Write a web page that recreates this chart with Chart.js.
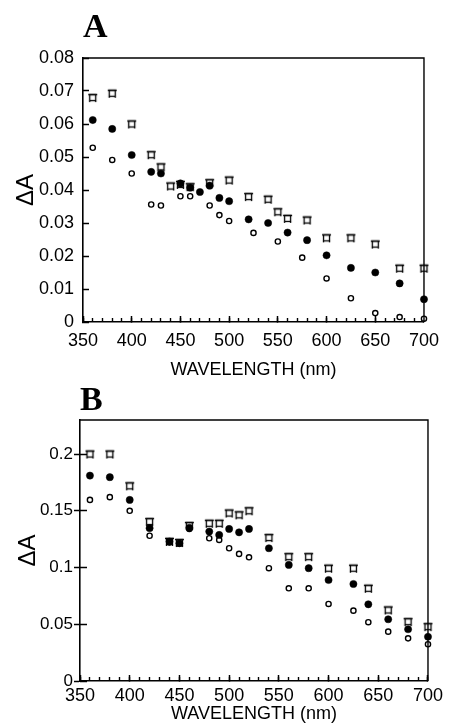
<!DOCTYPE html>
<html><head><meta charset="utf-8">
<script src="https://cdn.jsdelivr.net/npm/chart.js@4.4.1/dist/chart.umd.min.js"></script>
<style>
html,body{margin:0;padding:0;background:#fff;width:453px;height:723px;overflow:hidden}
canvas{position:absolute;left:0}
#cA{top:0;width:453px;height:382px}
#cB{top:382px;width:453px;height:341px}
</style></head><body>
<canvas id="cA" width="453" height="382"></canvas>
<canvas id="cB" width="453" height="341"></canvas>
<script>
// ---------- Panel A data ----------
const aSqWl   = [360,380,400,420,430,440,450,460,480,500,520,540,550,560,580,600,625,650,675,700];
const aSqVal  = [0.068,0.0693,0.060,0.0507,0.047,0.0412,0.0417,0.041,0.0422,0.043,0.038,0.0372,0.0334,0.0314,0.0309,0.0255,0.0255,0.0236,0.0163,0.0163];
const aFillWl = [360,380,400,420,430,450,460,470,480,490,500,520,540,560,580,600,625,650,675,700];
const aFillVal= [0.0612,0.0585,0.0506,0.0455,0.045,0.042,0.0407,0.0394,0.0413,0.0376,0.0366,0.0311,0.030,0.0271,0.0248,0.0202,0.0164,0.015,0.0117,0.0069];
const aOpenWl = [360,380,400,420,430,450,460,480,490,500,525,550,575,600,625,650,675,700];
const aOpenVal= [0.0528,0.0491,0.045,0.0356,0.0353,0.0381,0.0381,0.0353,0.0324,0.0306,0.027,0.0244,0.0195,0.0132,0.0072,0.0027,0.0015,0.001];
// ---------- Panel B data ----------
const bWl     = [360,380,400,420,440,450,460,480,490,500,510,520,540,560,580,600,625,640,660,680,700];
const bSqVal  = [0.200,0.200,0.172,0.1405,0.123,0.122,0.137,0.139,0.139,0.148,0.1464,0.150,0.1264,0.1096,0.1096,0.0994,0.0994,0.0817,0.0626,0.0523,0.0479];
const bFillVal= [0.181,0.1796,0.1596,0.1347,0.1229,0.1214,0.135,0.1317,0.1287,0.134,0.131,0.134,0.117,0.1023,0.0994,0.089,0.0855,0.0676,0.0544,0.0456,0.039];
const bOpenVal= [0.1596,0.162,0.150,0.128,0.122,0.121,0.134,0.1258,0.1243,0.117,0.112,0.109,0.0994,0.0817,0.0817,0.0679,0.062,0.0518,0.0435,0.0376,0.0324];
// ---------- axis labels ----------
const xTitle = 'WAVELENGTH (nm)';
const yTitle = 'ΔA';
const panelLetters = ['A','B'];

function pts(xs, ys){ return xs.map((x,i)=>({x:x, y:ys[i]})); }

function makeSquareMarker(){
  const c = document.createElement('canvas'); c.width = 11; c.height = 11;
  const g = c.getContext('2d');
  g.fillStyle = '#fff'; g.fillRect(2.5,2.5,6,6);
  g.strokeStyle = '#000'; g.lineWidth = 1.3;
  g.strokeRect(2.5,2.5,6,6);
  g.beginPath();
  g.moveTo(1,2.5); g.lineTo(10,2.5);
  g.moveTo(2.5,8.5); g.lineTo(2.5,10);
  g.moveTo(8.5,8.5); g.lineTo(8.5,10);
  g.stroke();
  return c;
}
const sqMarker = makeSquareMarker();

const decoPlugin = {
  id: 'deco',
  afterDraw(chart, args, opts){
    const ctx = chart.ctx, a = chart.chartArea;
    ctx.save();
    ctx.strokeStyle = '#000'; ctx.lineWidth = 1.4;
    ctx.beginPath();
    ctx.moveTo(a.left, a.top); ctx.lineTo(a.right, a.top); ctx.lineTo(a.right, a.bottom);
    ctx.stroke();
    ctx.fillStyle = '#000';
    ctx.font = 'bold 34px "Liberation Serif", "Times New Roman", serif';
    ctx.textBaseline = 'alphabetic'; ctx.textAlign = 'left';
    ctx.fillText(opts.letter, a.left, opts.letterY);
    ctx.restore();
  }
};

const FONT = '"Liberation Sans", Arial, sans-serif';

function datasets(sq, fill, open){
  return [
    {label:'filled', data:fill, pointStyle:'circle', pointRadius:3.6, backgroundColor:'#000', borderColor:'#000', borderWidth:0.5, order:1, clip:false},
    {label:'open', data:open, pointStyle:'circle', pointRadius:2.6, backgroundColor:'#fff', borderColor:'#000', borderWidth:1.4, order:2, clip:false},
    {label:'square', data:sq, pointStyle:sqMarker, pointRadius:5, backgroundColor:'#fff', borderColor:'#000', order:3, clip:false}
  ];
}

function build(id, cfg){
  const scales = {
    x: {
      type:'linear', min:350, max:700, weight:10,
      ticks:{stepSize:50, autoSkip:false, maxRotation:0, color:'#000', padding:cfg.xPad, font:{family:FONT, size:18}},
      grid:{display:true, drawOnChartArea:false, color:'#000', tickColor:'#000', tickLength:-6, tickWidth:1.5},
      border:{display:true, color:'#000', width:1.6},
      title:{display:true, text:xTitle, color:'#000', font:{family:FONT, size:18, lineHeight:1}, padding:{top:0, bottom:cfg.xTitlePad}},
      afterFit: s => { s.height = cfg.xHeight; }
    },
    xMinor: {
      type:'linear', min:350, max:700, position:'bottom', weight:0,
      ticks:{display:false, stepSize:10, autoSkip:false},
      grid:{display:true, drawOnChartArea:false, tickColor:'#000', tickLength:-4, tickWidth:1.4},
      border:{display:false},
      afterFit: s => { s.height = 0; }
    },
    y: {
      type:'linear', min:0, max:cfg.yMax, weight:10,
      ticks:{stepSize:cfg.yStep, includeBounds:false, color:'#000', padding:cfg.yPad, font:{family:FONT, size:cfg.yFont},
        callback: v => { const r = Math.round(v*100)/100; return r === 0 ? '0' : (cfg.fixed ? r.toFixed(2) : String(r)); }},
      grid:{display:true, drawOnChartArea:false, color:'#000', tickColor:'#000', tickLength:cfg.yTick, tickWidth:1.5},
      border:{display:true, color:'#000', width:1.6},
      title:{display:true, text:yTitle, color:'#000', font:{family:FONT, size:24, lineHeight:1.2}, padding:{top:cfg.yTitlePad, bottom:0}},
      afterFit: s => { s.width = cfg.yWidth; }
    }
  };
  if (cfg.yIn) {
    scales.yIn = {
      type:'linear', min:0, max:cfg.yMax, position:'left', weight:0,
      ticks:{display:false, stepSize:cfg.yStep, includeBounds:false},
      grid:{display:true, drawOnChartArea:false, tickColor:'#000', tickLength:-7, tickWidth:1.5},
      border:{display:false},
      afterFit: s => { s.width = 0; }
    };
  }
  return new Chart(document.getElementById(id), {
    type:'scatter',
    data:{datasets: datasets(cfg.sq, cfg.fill, cfg.open)},
    options:{
      responsive:false, animation:false, devicePixelRatio:1,
      layout:{padding:{left:0, top:cfg.top, right:cfg.right, bottom:0}},
      plugins:{legend:{display:false}, tooltip:{enabled:false}, deco:{letter:cfg.letter, letterY:cfg.letterY}},
      scales: scales
    },
    plugins:[decoPlugin]
  });
}

build('cA', {
  letter: panelLetters[0], letterY: 37,
  sq: pts(aSqWl, aSqVal), fill: pts(aFillWl, aFillVal), open: pts(aOpenWl, aOpenVal),
  yMax: 0.08, yStep: 0.01, fixed: true, yFont: 18, yTick: -6, yPad: 15, yWidth: 83, yTitlePad: 12,
  top: 58, right: 23, xHeight: 60, xPad: 14, xTitlePad: 3, yIn: false
});
build('cB', {
  letter: panelLetters[1], letterY: 28,
  sq: pts(bWl, bSqVal), fill: pts(bWl, bFillVal), open: pts(bWl, bOpenVal),
  yMax: 0.23, yStep: 0.05, fixed: false, yFont: 17, yTick: 6, yPad: 1, yWidth: 80, yTitlePad: 14,
  top: 38, right: 21, xHeight: 42, xPad: 10, xTitlePad: 0, yIn: true
});
</script>
</body></html>
